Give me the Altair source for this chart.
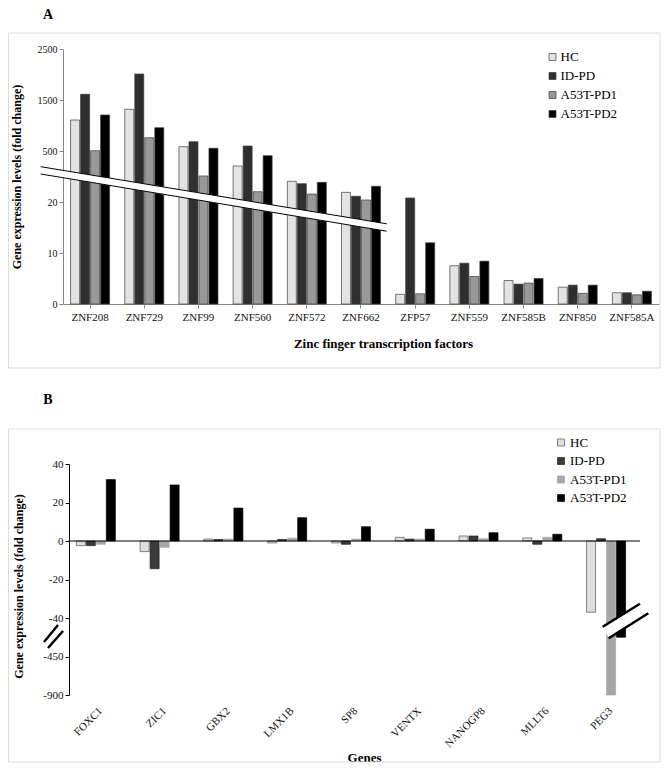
import altair as alt
import pandas as pd

FONT = "Liberation Serif"
groups = ["HC", "ID-PD", "A53T-PD1", "A53T-PD2"]

# ---------------- Panel A data ----------------
genes_a = ["ZNF208", "ZNF729", "ZNF99", "ZNF560", "ZNF572", "ZNF662",
           "ZFP57", "ZNF559", "ZNF585B", "ZNF850", "ZNF585A"]
hc_a = [1108, 1318, 584, 359, 215, 111, 1.9, 7.5, 4.6, 3.3, 2.2]
idpd_a = [1612, 2010, 682, 598, 192, 74, 58, 8.0, 3.9, 3.7, 2.2]
pd1_a = [506, 761, 265, 117, 95, 39, 2.0, 5.4, 4.1, 2.1, 1.8]
pd2_a = [1206, 957, 553, 456, 205, 168, 12.0, 8.4, 5.0, 3.7, 2.5]
ticks_a = [0, 10, 20, 500, 1500, 2500]

# ---------------- Panel B data ----------------
genes_b = ["FOXC1", "ZIC1", "GBX2", "LMX1B", "SP8", "VENTX", "NANOGP8", "MLLT6", "PEG3"]
hc_b = [-2.4, -5.5, 1.0, -1.0, -1.0, 1.9, 2.6, 1.6, -37]
idpd_b = [-2.4, -14.4, 0.8, 0.8, -1.7, 1.0, 2.6, -1.7, 1.2]
pd1_b = [-1.7, -3.3, 1.0, 1.5, 1.0, 1.0, 1.2, 1.9, -900]
pd2_b = [31.9, 29.1, 17.1, 12.1, 7.4, 6.1, 4.3, 3.5, -245]
ticks_b = [-900, -450, -40, -20, 0, 20, 40]


def long_df(genes, series):
    rows = []
    for gi, g in enumerate(genes):
        for grp, vals in zip(groups, series):
            rows.append({"Gene": g, "Group": grp, "Value": vals[gi]})
    return pd.DataFrame(rows)


dfa = long_df(genes_a, [hc_a, idpd_a, pd1_a, pd2_a])
dfb = long_df(genes_b, [hc_b, idpd_b, pd1_b, pd2_b])
one = pd.DataFrame({"k": [0]})
ytitle = "Gene expression levels (fold change)"

# ---------------- Panel A ----------------
WA, HA = 596, 255
n_a = len(ticks_a) - 1
ya = alt.Scale(type="linear", domain=ticks_a,
               range=[HA - HA * i / n_a for i in range(len(ticks_a))], nice=False, zero=False)

bars_a = alt.Chart(dfa).mark_bar(stroke="#3c3c3c", strokeWidth=0.7).encode(
    x=alt.X("Gene:N", sort=genes_a, title="Zinc finger transcription factors",
            scale=alt.Scale(paddingInner=0.28, paddingOuter=0.14),
            axis=alt.Axis(labelAngle=0, labelFontSize=11, labelColor="#111", labelFont=FONT,
                          tickSize=4, tickColor="#868686", domainColor="#868686",
                          labelPadding=3, titleFont=FONT, titleFontSize=13,
                          titleFontWeight="bold", titleColor="#000",
                          titleX=320, titleY=39, titleBaseline="middle")),
    xOffset=alt.XOffset("Group:N", sort=groups, scale=alt.Scale(paddingInner=0.1)),
    y=alt.Y("Value:Q", scale=ya, title=ytitle,
            axis=alt.Axis(values=ticks_a, labelExpr="datum.value + ''", grid=False,
                          labelOverlap=False,
                          labelFontSize=10, labelColor="#111", labelFont=FONT,
                          tickSize=4, tickColor="#868686", domainColor="#868686",
                          labelPadding=2, titleFont=FONT, titleFontSize=12,
                          titleFontWeight="bold", titleColor="#000",
                          titleX=-47, titleY=HA / 2, titleAngle=270,
                          titleAlign="center", titleBaseline="middle")),
    color=alt.Color("Group:N", sort=groups, title=None,
                    scale=alt.Scale(domain=groups, range=["#e3e3e3", "#2f2f2f", "#999999", "#000000"]),
                    legend=alt.Legend(orient="none", legendX=483, legendY=1.5,
                                      symbolType="square", symbolSize=49,
                                      symbolStrokeColor="#3c3c3c", symbolStrokeWidth=0.7,
                                      labelFont=FONT, labelFontSize=13, labelColor="#000",
                                      labelFontWeight="normal",
                                      labelOffset=1.5, rowPadding=5.0, padding=0,
                                      symbolOffset=0)),
)

deco_a = alt.Chart(one)
box_a = deco_a.mark_rect(fill="white", fillOpacity=0, stroke="#dcdcdc", strokeWidth=1).encode(
    x=alt.value(-54.5), x2=alt.value(597), y=alt.value(-16), y2=alt.value(319))
letter_a = deco_a.mark_text(text="A", font=FONT, fontWeight="bold", fontSize=14,
                            align="center", baseline="top").encode(
    x=alt.value(-15), y=alt.value(-41))
band_a = deco_a.mark_rule(color="white", strokeWidth=7.5).encode(
    x=alt.value(-22.3), y=alt.value(121.35), x2=alt.value(323.7), y2=alt.value(178.5))
band_a1 = deco_a.mark_rule(color="black", strokeWidth=1).encode(
    x=alt.value(-22.3), y=alt.value(117.7), x2=alt.value(323.7), y2=alt.value(174.8))
band_a2 = deco_a.mark_rule(color="black", strokeWidth=1).encode(
    x=alt.value(-22.3), y=alt.value(125), x2=alt.value(323.7), y2=alt.value(182.2))

panel_a = alt.layer(box_a, bars_a, band_a, band_a1, band_a2, letter_a).properties(width=WA, height=HA)

# ---------------- Panel B ----------------
# view origin shared with panel A; the plot itself starts 6px further right
OB = 6
WB, HB = 580, 231
n_b = len(ticks_b) - 1
yb = alt.Scale(type="linear", domain=ticks_b,
               range=[HB - HB * i / n_b for i in range(len(ticks_b))], nice=False, zero=False)
axis_yb = alt.Axis(values=ticks_b, labelExpr="datum.value + ''", grid=False,
                   labelOverlap=False, offset=-OB,
                   labelFontSize=11, labelColor="#111", labelFont=FONT,
                   tickSize=4, tickColor="#000", domainColor="#000",
                   labelPadding=2, titleFont=FONT, titleFontSize=12,
                   titleFontWeight="bold", titleColor="#000",
                   titleX=-51, titleY=122, titleAngle=270,
                   titleAlign="center", titleBaseline="middle")

bars_b = alt.Chart(dfb).mark_bar(strokeWidth=0.7).encode(
    x=alt.X("Gene:N", sort=genes_b, title="Genes",
            scale=alt.Scale(range=[OB, WB], paddingInner=0.23, paddingOuter=0.115),
            axis=alt.Axis(labelAngle=-45, labelAlign="right", labelBaseline="middle",
                          labelFontSize=11, labelColor="#111", labelFont=FONT,
                          ticks=False, domain=False, labelPadding=14,
                          titleFont=FONT, titleFontSize=13, titleFontWeight="bold",
                          titleColor="#000", titleX=301, titleY=62, titleBaseline="middle")),
    xOffset=alt.XOffset("Group:N", sort=groups, scale=alt.Scale(paddingInner=0.15)),
    y=alt.Y("Value:Q", scale=yb, title=ytitle, axis=axis_yb),
    color=alt.Color("Group:N", sort=groups, title=None,
                    scale=alt.Scale(domain=groups, range=["#dedede", "#3a3a3a", "#a6a6a6", "#000000"]),
                    legend=alt.Legend(orient="none", legendX=491.5, legendY=-28,
                                      symbolType="square", symbolSize=49,
                                      symbolStrokeColor="#3c3c3c", symbolStrokeWidth=0.7,
                                      labelFont=FONT, labelFontSize=13, labelColor="#000",
                                      labelFontWeight="normal",
                                      labelOffset=2.5, rowPadding=4.5, padding=0,
                                      symbolOffset=0)),
    stroke=alt.Stroke("Group:N", sort=groups, legend=None,
                      scale=alt.Scale(domain=groups, range=["#555555", "#222222", "#a6a6a6", "#000000"])),
)

deco_b = alt.Chart(one)
zero_b = deco_b.mark_rule(color="black", strokeWidth=1).encode(
    y=alt.YDatum(0, title=ytitle, scale=yb, axis=axis_yb), x=alt.value(OB), x2=alt.value(OB + 571))
box_b = deco_b.mark_rect(fill="white", fillOpacity=0, stroke="#dcdcdc", strokeWidth=1).encode(
    x=alt.value(-54.5), x2=alt.value(597), y=alt.value(-35), y2=alt.value(298))
letter_b = deco_b.mark_text(text="B", font=FONT, fontWeight="bold", fontSize=14,
                            align="center", baseline="top").encode(
    x=alt.value(-15), y=alt.value(-71))
brk_w = deco_b.mark_rule(color="white", strokeWidth=11).encode(
    x=alt.value(OB + 536.7), y=alt.value(168.5), x2=alt.value(OB + 575.2), y2=alt.value(144.5))
brk_1 = deco_b.mark_rule(color="black", strokeWidth=2.5).encode(
    x=alt.value(OB + 533.7), y=alt.value(162.7), x2=alt.value(OB + 571), y2=alt.value(139.7))
brk_2 = deco_b.mark_rule(color="black", strokeWidth=2.5).encode(
    x=alt.value(OB + 539.7), y=alt.value(174.3), x2=alt.value(OB + 579.3), y2=alt.value(149.3))
ybrk_1 = deco_b.mark_rule(color="black", strokeWidth=2.5).encode(
    x=alt.value(OB - 25), y=alt.value(178), x2=alt.value(OB - 11), y2=alt.value(161))
ybrk_2 = deco_b.mark_rule(color="black", strokeWidth=2.5).encode(
    x=alt.value(OB - 21), y=alt.value(184), x2=alt.value(OB - 6), y2=alt.value(167))

panel_b = alt.layer(box_b, bars_b, zero_b, brk_w, brk_1, brk_2, ybrk_1, ybrk_2, letter_b).properties(
    width=WB, height=HB)

chart = alt.vconcat(panel_a, panel_b, spacing=24).resolve_scale(
    color="independent", stroke="independent", x="independent", y="independent"
).resolve_legend(color="independent").properties(padding=0).configure(
    font=FONT
).configure_axis(labelFont=FONT, titleFont=FONT, labelOverlap=False).configure_legend(
    labelFont=FONT, titleFont=FONT
).configure_text(font=FONT).configure_view(strokeWidth=0)

chart.save("out.html", embed_options={"renderer": "svg", "actions": False})
